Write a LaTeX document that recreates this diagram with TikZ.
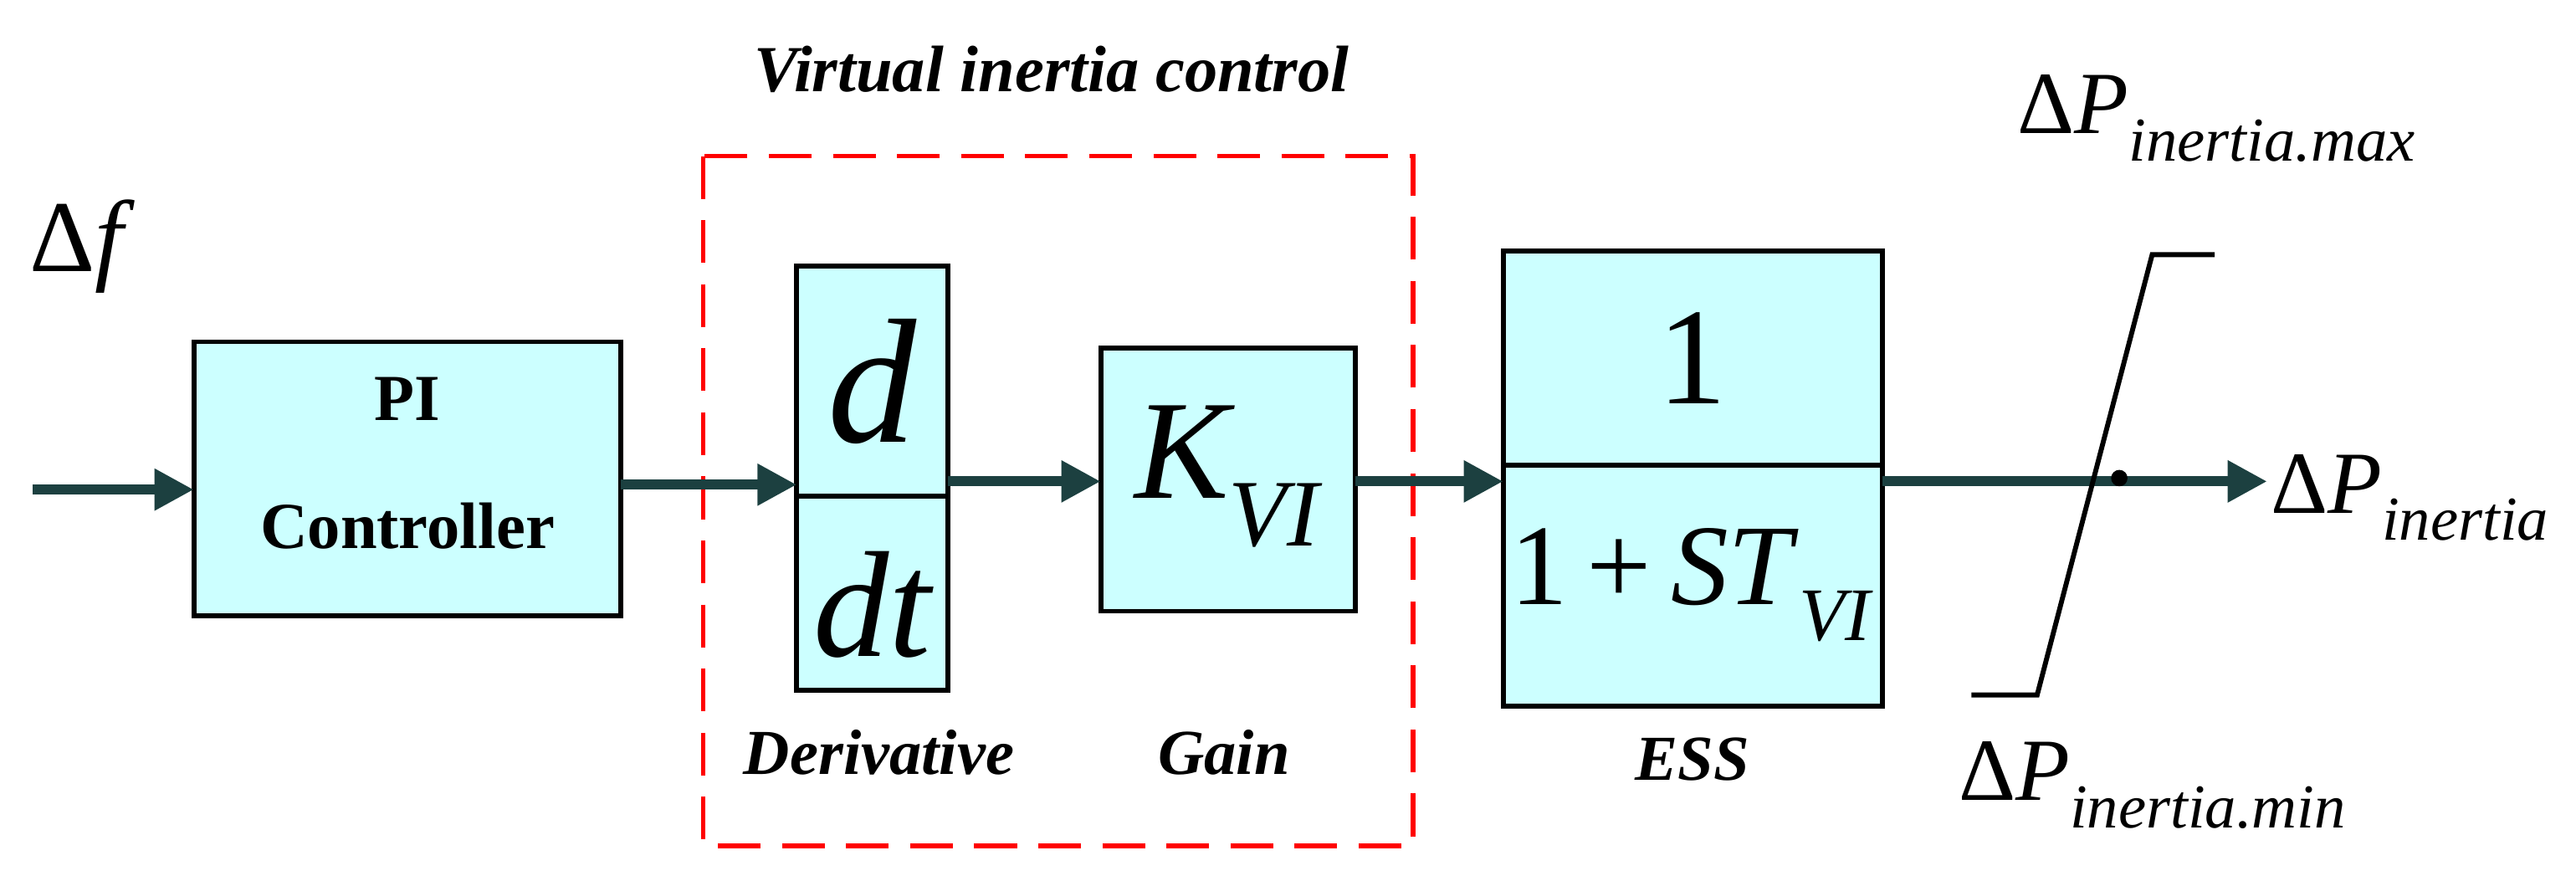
\documentclass[tikz,border=0pt]{standalone}
\usepackage{fontspec}
\setmainfont{Liberation Serif}
\usetikzlibrary{arrows.meta}
\definecolor{arr}{HTML}{1C4040}
\definecolor{boxc}{HTML}{CCFFFF}
\begin{document}
\begin{tikzpicture}[x=1pt,y=-1pt,
  blk/.style={draw=black,line width=3pt,fill=boxc},
  ar/.style={draw=arr,line width=6pt,-{Triangle[length=24pt,width=24pt]}},
  fz/.style={font=\fontsize{#1}{#1}\selectfont}]
\useasboundingbox (0,0) rectangle (1568,533);
\node[fz=62,anchor=center] (df) at (50,150) {Δ\textit{f}};
\coordinate (in) at (20,298);
\draw[blk] (118,208) rectangle (378,375);
\coordinate (pil) at (118,298); \coordinate (pir) at (378,295);
\node[font=\bfseries\fontsize{40}{40}\selectfont] (pi1) at (248,243) {PI};
\node[font=\bfseries\fontsize{40}{40}\selectfont] (pi2) at (248,320) {Controller};
\draw[ar] (in) -- (pil);
\draw[red,line width=3pt,dash pattern=on 26pt off 13pt] (428,95) rectangle (860,515);
\node[font=\bfseries\itshape\fontsize{40}{40}\selectfont] (vic) at (640,42) {Virtual inertia control};
\draw[blk] (485,162) rectangle (577,420);
\draw[line width=3pt] (485,302) -- (577,302);
\node[font=\itshape\fontsize{108}{108}\selectfont] (d) at (531,232) {d};
\node[font=\itshape\fontsize{92}{92}\selectfont] (dt) at (531,368) {dt};
\coordinate (dl) at (485,295); \coordinate (dr) at (577,293);
\draw[ar] (pir) -- (dl);
\draw[blk] (670,212) rectangle (825,372);
\node[font=\itshape\fontsize{86}{86}\selectfont,inner sep=0pt] (k) at (747,290) {K\textsubscript{\fontsize{58}{58}\selectfont VI}};
\coordinate (kl) at (670,293); \coordinate (kr) at (825,293);
\draw[ar] (dr) -- (kl);
\draw[blk] (915,153) rectangle (1146,430);
\draw[line width=3pt] (915,283) -- (1146,283);
\node[fz=84] (one) at (1030,218) {1};
\node[fz=70,inner sep=0pt] (den) at (1030,356) {1\,+\,\textit{ST}\textsubscript{\textit{\fontsize{46}{46}\selectfont VI}}};
\coordinate (el) at (915,293); \coordinate (er) at (1146,293);
\draw[ar] (kr) -- (el);
\node[font=\bfseries\itshape\fontsize{39}{39}\selectfont] (l1) at (535,458) {Derivative};
\node[font=\bfseries\itshape\fontsize{39}{39}\selectfont] (l2) at (745,458) {Gain};
\node[font=\bfseries\itshape\fontsize{39}{39}\selectfont] (l3) at (1030,462) {ESS};
\coordinate (out) at (1380,293);
\draw[ar] (er) -- (out);
\fill[black] (1290,291) circle (5pt);
\draw[line width=3pt] (1200,423) -- (1240,423) -- (1310,155) -- (1348,155);
\node[fz=54,anchor=west,inner sep=0pt] (pmax) at (1228,72) {Δ\textit{P}\textsubscript{\textit{\fontsize{38}{38}\selectfont inertia.max}}};
\node[fz=54,anchor=west,inner sep=0pt] (pin) at (1382,303) {Δ\textit{P}\textsubscript{\textit{\fontsize{38}{38}\selectfont inertia}}};
\node[fz=54,anchor=west,inner sep=0pt] (pmin) at (1192,478) {Δ\textit{P}\textsubscript{\textit{\fontsize{38}{38}\selectfont inertia.min}}};
\end{tikzpicture}
\end{document}
